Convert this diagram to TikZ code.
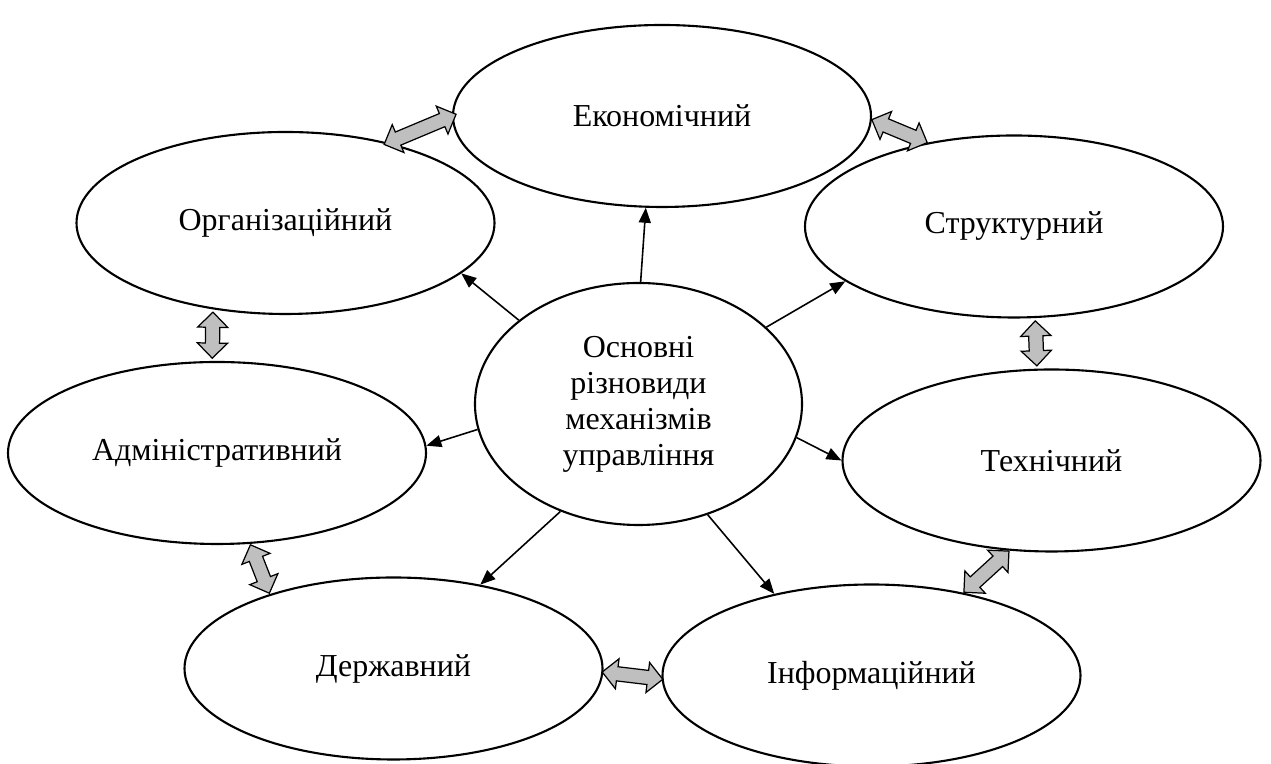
\documentclass[tikz,border=0pt]{standalone}
\usepackage{fontspec}
\setmainfont{Liberation Serif}
\usetikzlibrary{arrows.meta,shapes.geometric,shapes.arrows}

\begin{document}
\begin{tikzpicture}[>={Triangle[length=0.3cm,width=0.24cm]},
  ell/.style={draw,ellipse,line width=1.2pt,minimum width=8.36cm,minimum height=3.64cm,inner sep=0pt,align=center,font=\fontsize{18.2}{20.5}\selectfont},
  dbl/.style={draw,double arrow,fill=gray!50,line width=0.7pt,inner sep=0pt,text height=0.26cm,text depth=0pt,minimum width=0.58cm,double arrow head extend=0.16cm,sloped,midway}]
  \useasboundingbox (0,0) rectangle (25.42,15.28);
  \node[ell](ek) at (13.24,12.96){Економічний};
  \node[ell](org) at (5.71,10.82){Організаційний};
  \node[ell](str) at (20.28,10.75){Структурний};
  \node[ell,minimum width=6.54cm,minimum height=4.84cm](osn) at (12.77,7.20){Основні\\ різновиди\\ механізмів\\ управління};
  \node[ell](adm) at (4.34,6.22){Адміністративний};
  \node[ell](teh) at (21.03,6.07){Технічний};
  \node[ell](der) at (7.87,1.91){Державний};
  \node[ell](inf) at (17.43,1.77){Інформаційний};
  % from the centre
  \draw[->,line width=0.9pt] (osn.89) -- (ek.260);
  \draw[->,line width=0.9pt] (osn.145) -- (org.-16);
  \draw[->,line width=0.9pt] (osn.31) -- (str.198);
  \draw[->,line width=0.9pt] (osn.189) -- (adm.2);
  \draw[->,line width=0.9pt] (osn.-12) -- (teh.180);
  \draw[->,line width=0.9pt] (osn.234) -- (der.44);
  \draw[->,line width=0.9pt] (osn.-58) -- (inf.140);
  % links between neighbours
  \path (org.38) -- (ek.180) node[dbl,minimum height=1.56cm]{};
  \path (ek.-1) -- (str.136) node[dbl,minimum height=1.2cm]{};
  \path (org.230) -- (adm.93) node[dbl,minimum height=0.92cm]{};
  \path (str.-77) -- (teh.99) node[dbl,minimum height=0.9cm]{};
  \path (adm.-70) -- (der.149) node[dbl,minimum height=1.04cm]{};
  \path (der.-1) -- (inf.181) node[dbl,minimum height=1.22cm]{};
  \path (teh.245) -- (inf.42) node[dbl,minimum height=1.22cm]{};
\end{tikzpicture}
\end{document}
